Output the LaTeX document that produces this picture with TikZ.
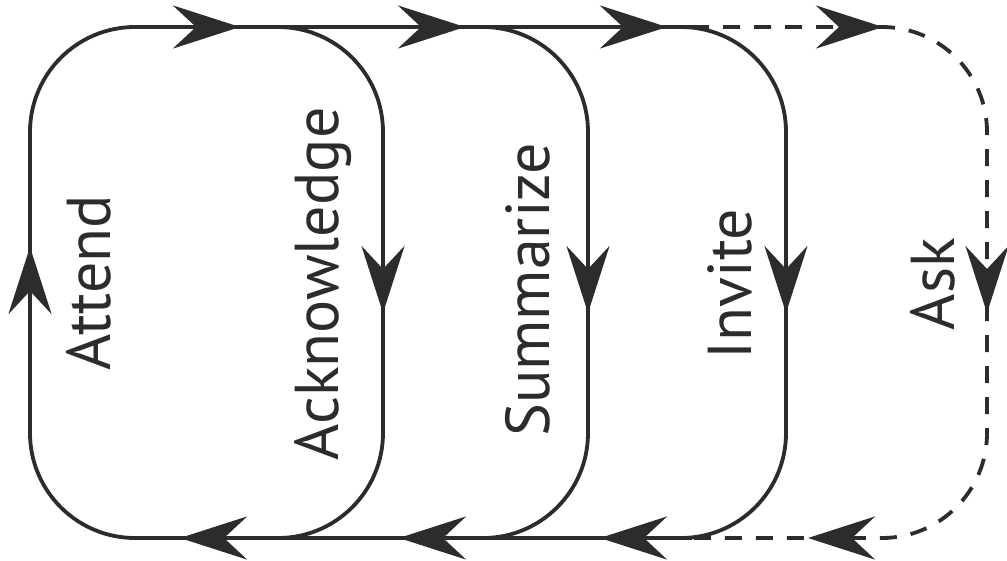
\documentclass[tikz,border=0pt]{standalone}
\usepackage{fontspec}
\setmainfont{PT Sans}
\usetikzlibrary{arrows.meta}
\definecolor{ink}{HTML}{2C2C2C}
\begin{document}
\begin{tikzpicture}[x=1pt,y=-1pt,
  loopline/.style={draw=ink, line width=3.8pt, rounded corners=105pt},
  dashline/.style={loopline, dash pattern=on 17pt off 14pt},
  tipmark/.style={draw=ink, fill=ink, line width=3.8pt, -{Stealth[length=67pt,width=43pt,inset=23pt]}},
  lbl/.style={text=ink, font=\fontsize{62}{62}\selectfont, rotate=90, anchor=base, inner sep=0pt}
]
\useasboundingbox (0,0) rectangle (1007,560);
% corner coordinates
\coordinate (tl) at (30,27);
\coordinate (bl) at (30,538);
\coordinate (tstart) at (200,27);
\coordinate (bstart) at (200,538);
\coordinate (tend) at (692,27);
\coordinate (bend) at (692,538);
% outer left side
\draw[loopline] (tstart) -- (tl) -- (bl) -- (bstart);
% top and bottom solid lines
\draw[loopline] (tstart) -- (tend);
\draw[loopline] (bstart) -- (bend);
% return edges
\foreach \x in {383,588,786}{
  \draw[loopline] (\x-160,27) -- (\x,27) -- (\x,538) -- (\x-160,538);
}
% dashed last loop
\draw[dashline] (tend) -- (987,27) -- (987,538) -- (bend);
% arrow tips on top line
\foreach \t in {240,465,667,883}{
  \draw[tipmark] (\t-44,27) -- (\t,27);
}
% arrow tips on bottom line
\foreach \t in {180,399,600,808}{
  \draw[tipmark] (\t+44,538) -- (\t,538);
}
% vertical arrows
\draw[tipmark] (30,291) -- (30,247);
\foreach \x in {383,588,786,987}{
  \draw[tipmark] (\x,269) -- (\x,313);
}
% labels
\node[lbl] (attend) at (110,283) {Attend};
\node[lbl] (ack) at (338,284) {Acknowledge};
\node[lbl] (sum) at (549,290) {Summarize};
\node[lbl] (inv) at (751,284) {Invite};
\node[lbl] (ask) at (954,284) {Ask};
\end{tikzpicture}
\end{document}
